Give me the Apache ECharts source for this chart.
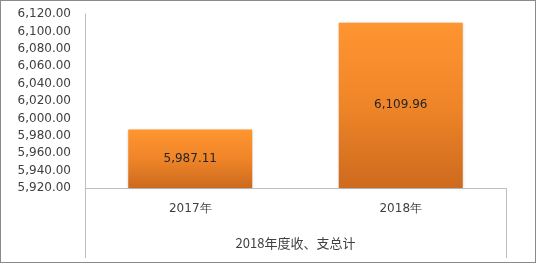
<!DOCTYPE html>
<html>
<head>
<meta charset="utf-8">
<script src="https://cdn.jsdelivr.net/npm/echarts@6/dist/echarts.min.js"></script>
<style>
html,body{margin:0;padding:0;background:#fff;}
#c{position:absolute;left:0;top:0;width:537px;height:265px;}
#frame{position:absolute;left:0;top:0;width:536px;height:263px;box-sizing:border-box;border:1px solid #8a8a8a;pointer-events:none;}
</style>
</head>
<body>
<div id="c"></div>
<div id="frame"></div>
<script>
const categories = ['2017年', '2018年'];
const groupLabel = ['2018年度收、支总计'];
const values = [5987.11, 6109.96];
const yMin = 5920, yMax = 6120, yStep = 20;

const fmt = v => Number(v).toLocaleString('en-US', {minimumFractionDigits: 2, maximumFractionDigits: 2});
const font = 'DejaVu Sans, sans-serif';

const chart = echarts.init(document.getElementById('c'), null, {renderer: 'canvas'});
chart.setOption({
  animation: false,
  backgroundColor: '#fff',
  grid: {left: 85, right: 31, top: 14, bottom: 77, containLabel: false},
  xAxis: [
    {
      type: 'category', data: categories, position: 'bottom',
      axisLine: {show: true, lineStyle: {color: '#bfbfbf', width: 1}},
      axisTick: {show: false},
      axisLabel: {color: '#404040', fontFamily: font, fontSize: 12, margin: 15}
    },
    {
      type: 'category', data: groupLabel, position: 'bottom', gridIndex: 0,
      axisLine: {show: false},
      axisTick: {show: true, length: 70, lineStyle: {color: '#bfbfbf', width: 1}},
      axisLabel: {color: '#404040', fontFamily: 'Noto Sans CJK SC, sans-serif', fontSize: 13, margin: 49}
    }
  ],
  yAxis: {
    type: 'value', min: yMin, max: yMax, interval: yStep,
    axisLine: {show: true, lineStyle: {color: '#bfbfbf', width: 1}},
    axisTick: {show: false},
    splitLine: {show: false},
    axisLabel: {color: '#404040', fontFamily: font, fontSize: 12, margin: 14, formatter: fmt}
  },
  series: [{
    type: 'bar', xAxisIndex: 0, data: values, barWidth: 124,
    itemStyle: {
      color: new echarts.graphic.LinearGradient(0, 0, 0, 1, [
        {offset: 0, color: '#ff9530'},
        {offset: 0.5, color: '#ef8528'},
        {offset: 1, color: '#cc6a1e'}
      ]),
      shadowColor: 'rgba(0,0,0,0.25)', shadowBlur: 3, shadowOffsetX: 0, shadowOffsetY: 0
    },
    label: {show: true, position: 'inside', color: '#262626', fontFamily: font, fontSize: 12, formatter: p => fmt(p.value)}
  }]
});
</script>
</body>
</html>
